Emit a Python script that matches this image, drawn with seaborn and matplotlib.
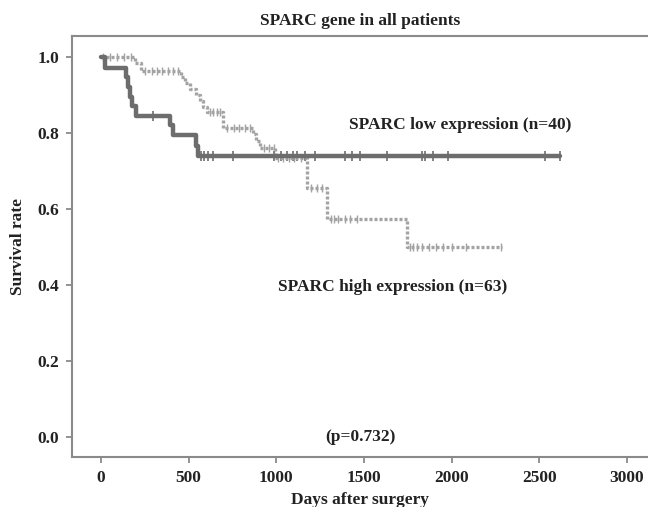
import numpy as np
import pandas as pd
import matplotlib
matplotlib.use("Agg")
import matplotlib.pyplot as plt
import seaborn as sns

# -----------------------------
# Data
# -----------------------------
# SPARC low expression (n=40): step changes (time, survival)
low_times = [0, 23, 143, 155, 165, 175, 203, 394, 410, 540, 555, 2620]
low_surv = [1.0, 0.972, 0.947, 0.921, 0.896, 0.872, 0.846, 0.820, 0.794, 0.767, 0.740, 0.740]
low_censor = [300, 570, 590, 610, 640, 755, 985, 1030, 1060, 1095, 1120, 1165,
              1220, 1390, 1430, 1475, 1630, 1830, 1850, 1895, 1980, 2530, 2620]

# SPARC high expression (n=63)
high_times = [0, 195, 230, 455, 480, 510, 540, 565, 585, 605, 697, 870, 885,
              905, 993, 1175, 1290, 1745, 2290]
high_surv = [1.0, 0.984, 0.964, 0.948, 0.932, 0.916, 0.900, 0.884, 0.868, 0.856,
             0.813, 0.797, 0.780, 0.760, 0.733, 0.655, 0.573, 0.500, 0.500]
high_censor = [10, 50, 90, 130, 170, 250, 290, 320, 350, 380, 410, 440, 620, 640,
               660, 680, 720, 760, 790, 820, 850, 930, 960, 985, 1010, 1040, 1070,
               1100, 1140, 1200, 1230, 1260, 1310, 1330, 1350, 1390, 1420, 1460,
               1760, 1780, 1800, 1830, 1870, 1910, 1950, 2000, 2080, 2280]

x_ticks = [0, 500, 1000, 1500, 2000, 2500, 3000]
y_ticks = [0.0, 0.2, 0.4, 0.6, 0.8, 1.0]


def surv_at(times, surv, t):
    idx = np.searchsorted(times, t, side="right") - 1
    return np.array(surv)[idx]


low_df = pd.DataFrame({"days": low_times, "surv": low_surv})
high_df = pd.DataFrame({"days": high_times, "surv": high_surv})
low_c = pd.DataFrame({"days": low_censor, "surv": surv_at(low_times, low_surv, low_censor)})
high_c = pd.DataFrame({"days": high_censor, "surv": surv_at(high_times, high_surv, high_censor)})

# -----------------------------
# Plot
# -----------------------------
sns.set_style("ticks")
plt.rcParams["font.family"] = ["Liberation Serif", "DejaVu Serif"]
plt.rcParams["font.weight"] = "bold"
plt.rcParams["axes.labelweight"] = "bold"
plt.rcParams["axes.titleweight"] = "bold"

low_color = "#6d6d6d"
high_color = "#a3a3a3"
spine_color = "#8a8a8a"

fig = plt.figure(figsize=(6.48, 5.07), dpi=100)
ax = fig.add_axes([0.111, 0.0986, 0.889, 0.830])

sns.lineplot(data=high_df, x="days", y="surv", ax=ax, color=high_color,
             drawstyle="steps-post", linewidth=2.4, linestyle=(0, (0.9, 0.6)),
             estimator=None, sort=False)
sns.scatterplot(data=high_c, x="days", y="surv", ax=ax, marker="|", s=30,
                color=high_color, linewidth=1.0)

sns.lineplot(data=low_df, x="days", y="surv", ax=ax, color=low_color,
             drawstyle="steps-post", linewidth=3.2, estimator=None, sort=False)
sns.scatterplot(data=low_c, x="days", y="surv", ax=ax, marker="|", s=60,
                color=low_color, linewidth=1.2)

ax.set_xlim(-165, 3120)
ax.set_ylim(-0.053, 1.055)
ax.set_xticks(x_ticks)
ax.set_yticks(y_ticks)
ax.set_yticklabels([f"{v:.1f}" for v in y_ticks])

for side in ["left", "bottom", "top"]:
    ax.spines[side].set_color(spine_color)
    ax.spines[side].set_linewidth(1.5)
ax.spines["right"].set_visible(False)
ax.tick_params(axis="both", colors=spine_color, labelcolor="#222222",
               labelsize=12.5, length=4, width=1.3, pad=5)

ax.set_title("SPARC gene in all patients", fontsize=12.5, color="#222222", pad=8)
ax.set_xlabel("Days after surgery", fontsize=12.5, color="#222222", labelpad=5)
ax.set_ylabel("Survival rate", fontsize=12.5, color="#222222", labelpad=8)

ax.text(2047, 0.821, "SPARC low expression (n=40)", ha="center", va="center",
        fontsize=12.5, color="#222222")
ax.text(1665, 0.395, "SPARC high expression (n=63)", ha="center", va="center",
        fontsize=12.5, color="#222222")
ax.text(1480, 0.0, "(p=0.732)", ha="center", va="center",
        fontsize=12.5, color="#222222")

fig.savefig("out.png", dpi=100)
plt.close()
